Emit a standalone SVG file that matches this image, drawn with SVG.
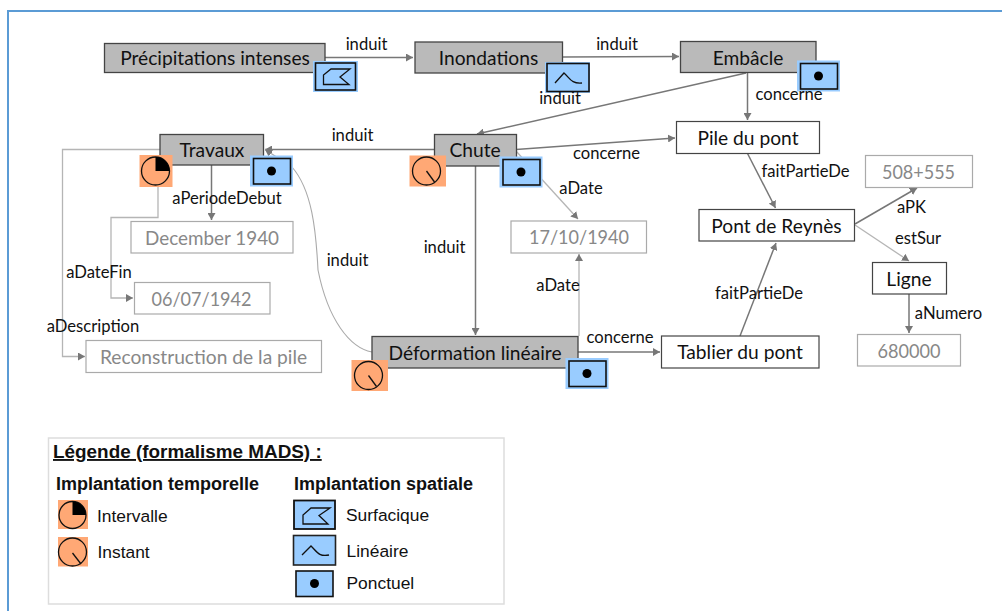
<svg xmlns="http://www.w3.org/2000/svg" width="1002" height="611" viewBox="0 0 1002 611">
<style>
text{font-family:Lato,"Liberation Sans",sans-serif;fill:#111;text-anchor:middle}
.t{font-size:19.2px}
.l{font-size:16.6px}
.a{font-size:19.2px;fill:#888}
.leg{font-family:"Liberation Sans",Arial,sans-serif;text-anchor:start;font-size:17.4px}
.b{font-weight:bold;font-size:18px}
.ev{fill:#bababa;stroke:#444;stroke-width:1.3}
.ob{fill:#fff;stroke:#444;stroke-width:1.2}
.at{fill:#fff;stroke:#aaa;stroke-width:1.2}
.c{fill:none;stroke:#777;stroke-width:1.5;marker-end:url(#ah)}
.cl{fill:none;stroke:#b5b5b5;stroke-width:1.3;marker-end:url(#ah)}
.i{fill:none;stroke:#111;stroke-width:1.3}
.bl{fill:#99ccff}
.or{fill:#ffa875}
</style>
<defs>
<marker id="ah" markerUnits="userSpaceOnUse" markerWidth="9" markerHeight="8" refX="7" refY="4" orient="auto"><path d="M0 0L7 4L0 8Z" fill="#777"/></marker>
<g id="instant"><rect x="-18" y="-15.500" width="36.500" height="31" class="or"/><circle cx="-1" cy="0" r="14" class="i"/><path d="M-1 0L7 11" class="i"/></g>
<g id="interval"><rect x="-16" y="-16" width="33" height="32" class="or"/><circle cx="0" cy="0" r="14" class="i"/><path d="M0 0V-14A14 14 0 0 1 14 0Z" fill="#000"/></g>
<g id="point"><rect x="-21.500" y="-15.500" width="43" height="31" class="bl"/><rect x="-18" y="-12.500" width="37" height="25.500" class="bl" stroke="#111" stroke-width="1.6"/><circle cx="0" cy="0" r="4.500" fill="#000"/></g>
</defs>
<rect x="8" y="11" width="1010" height="620" fill="none" stroke="#5b9bd5" stroke-width="2"/>
<g id="connectors">
<path class="c" d="M325 57.500H413"/>
<path class="c" d="M562 57L679 56.500"/>
<path class="c" d="M746 73L477 134"/>
<path class="c" d="M747.500 73V120"/>
<path class="c" d="M434 149.500H265"/>
<path class="c" d="M516 149.500L675 138"/>
<path class="c" d="M475.500 166V335"/>
<path class="c" d="M747.500 153.500L775.500 208"/>
<path class="cl" d="M516 151L578 219"/>
<path class="cl" d="M579 336V254"/>
<path class="c" d="M578 352H660"/>
<path class="c" d="M740 336L776 243"/>
<path class="c" d="M855 224L917 188"/>
<path class="cl" d="M855 225L909 261"/>
<path class="c" d="M909 294V333"/>
<path class="c" d="M211.500 165V220"/>
<path class="cl" d="M158 165V217.500H111V298H133"/>
<path class="cl" d="M160 149.500H62.500V356.500H85"/>
<path d="M372 352C350 348 328 320 318 270C316 230 312 190 292 167L265 149.500" fill="none" stroke="#aaa" stroke-width="1.1" marker-end="url(#ah)"/>
</g>
<g id="n-precip"><rect class="ev" x="104.500" y="43.500" width="220.500" height="29"/><text class="t" x="215" y="65">Précipitations intenses</text>
<rect x="313" y="61" width="45" height="31" class="bl"/><rect x="315.500" y="63" width="40" height="27" class="bl" stroke="#111" stroke-width="1.600"/><path class="i" d="M323.500 84.500V75L331 69H350L340 77L349 84.500Z"/></g>
<g id="n-inond"><rect class="ev" x="415" y="42" width="147.500" height="31"/><text class="t" x="488.500" y="65">Inondations</text>
<rect x="545" y="62" width="45" height="31" class="bl"/><rect x="547" y="63.500" width="42" height="28" class="bl" stroke="#111" stroke-width="1.600"/><path class="i" d="M555 83L564 73C570 78 571 84 582 83"/></g>
<g id="n-emb"><rect class="ev" x="680.500" y="41.500" width="135.500" height="31"/><text class="t" x="748" y="64.500">Embâcle</text><use href="#point" transform="translate(818.500 76)"/></g>
<g id="n-trav"><rect class="ev" x="160" y="134.500" width="103.500" height="30.500"/><text class="t" x="212" y="157">Travaux</text><use href="#interval" transform="translate(155.500 171)"/><use href="#point" transform="translate(271.500 171)"/></g>
<g id="n-chute"><rect class="ev" x="434.500" y="134.500" width="82" height="31.500"/><text class="t" x="475" y="157">Chute</text><use href="#instant" transform="translate(427.500 171)"/><use href="#point" transform="translate(521 172)"/></g>
<g id="n-pile"><rect class="ob" x="676.500" y="121.500" width="143" height="32"/><text class="t" x="748" y="145">Pile du pont</text></g>
<g id="n-pont"><rect class="ob" x="699" y="209.500" width="155.500" height="31.500"/><text class="t" x="776.500" y="232.500">Pont de Reynès</text></g>
<g id="n-pk"><rect class="at" x="865.500" y="155.500" width="107" height="32"/><text class="a" x="918.500" y="178.500" textLength="73" lengthAdjust="spacingAndGlyphs">508+555</text></g>
<g id="n-date"><rect class="at" x="511" y="221" width="135.500" height="32"/><text class="a" x="579" y="244" textLength="100" lengthAdjust="spacingAndGlyphs">17/10/1940</text></g>
<g id="n-dec"><rect class="at" x="131" y="221.500" width="162" height="31.500"/><text class="a" x="212" y="244.500" textLength="134" lengthAdjust="spacingAndGlyphs">December 1940</text></g>
<g id="n-fin"><rect class="at" x="134.500" y="282.500" width="135.500" height="31.500"/><text class="a" x="201.500" y="305.500" textLength="100" lengthAdjust="spacingAndGlyphs">06/07/1942</text></g>
<g id="n-rec"><rect class="at" x="86" y="340.500" width="235.500" height="32"/><text class="a" x="203.500" y="363.500">Reconstruction de la pile</text></g>
<g id="n-def"><rect class="ev" x="372" y="336.500" width="206" height="31.500"/><text class="t" x="475" y="359.500">Déformation linéaire</text><use href="#instant" transform="translate(369.500 375.500)"/><use href="#point" transform="translate(587 373.500)"/></g>
<g id="n-tab"><rect class="ob" x="661.500" y="336" width="157.500" height="32"/><text class="t" x="740" y="359">Tablier du pont</text></g>
<g id="n-ligne"><rect class="ob" x="872.500" y="262.500" width="74" height="31.500"/><text class="t" x="909" y="285.500">Ligne</text></g>
<g id="n-num"><rect class="at" x="857.500" y="334.500" width="103" height="31.500"/><text class="a" x="909" y="357.500" textLength="63" lengthAdjust="spacingAndGlyphs">680000</text></g>
<g id="labels">
<text class="l" x="366.500" y="49.500">induit</text>
<text class="l" x="617" y="49.500">induit</text>
<text class="l" x="560" y="104">induit</text>
<text class="l" x="789" y="100">concerne</text>
<text class="l" x="352.500" y="141">induit</text>
<text class="l" x="606.500" y="159">concerne</text>
<text class="l" x="227" y="204">aPeriodeDebut</text>
<text class="l" x="805.500" y="177">faitPartieDe</text>
<text class="l" x="581" y="194">aDate</text>
<text class="l" x="444.500" y="252.500">induit</text>
<text class="l" x="347.500" y="265.500">induit</text>
<text class="l" x="99" y="278">aDateFin</text>
<text class="l" x="93" y="331.500">aDescription</text>
<text class="l" x="558" y="291">aDate</text>
<text class="l" x="759" y="299">faitPartieDe</text>
<text class="l" x="620" y="343">concerne</text>
<text class="l" x="911.500" y="213">aPK</text>
<text class="l" x="918" y="244">estSur</text>
<text class="l" x="948.500" y="319">aNumero</text>
</g>
<g id="legend">
<rect x="48.500" y="438" width="455.500" height="166" fill="#fff" stroke="#ddd" stroke-width="1.500"/>
<text class="leg" x="53" y="458" style="font-size:18.9px;font-weight:bold;text-decoration:underline">Légende (formalisme MADS) :</text>
<text class="leg b" x="56" y="490">Implantation temporelle</text>
<text class="leg b" x="294" y="490">Implantation spatiale</text>
<g id="lg-int"><rect x="58" y="500" width="30" height="29" class="or"/><circle cx="72.500" cy="515" r="13.500" class="i"/><path d="M72.500 515V501.500A13.500 13.500 0 0 1 86 515Z" fill="#000"/><text class="leg" x="97" y="521.500">Intervalle</text></g>
<g id="lg-ins"><rect x="58" y="537" width="30" height="29.500" class="or"/><circle cx="72.500" cy="552" r="14" class="i"/><path d="M72.500 553L81 564" class="i"/><text class="leg" x="97.500" y="557.500">Instant</text></g>
<g id="lg-surf"><rect x="294" y="500.500" width="41" height="28.500" class="bl" stroke="#111" stroke-width="1.800"/><path class="i" d="M303 524V515L311 508H330L319 515.500L328 524Z"/><text class="leg" x="346" y="521">Surfacique</text></g>
<g id="lg-lin"><rect x="293.500" y="535.500" width="42" height="29.500" class="bl" stroke="#222" stroke-width="1.600"/><path class="i" d="M302 555L311 546C317 552 319 557 329 555"/><text class="leg" x="346.500" y="557">Linéaire</text></g>
<g id="lg-pon"><rect x="296" y="571" width="37" height="25.500" class="bl" stroke="#111" stroke-width="1.600"/><circle cx="314.500" cy="583.500" r="4.500" fill="#000"/><text class="leg" x="346.500" y="589">Ponctuel</text></g>
</g>
</svg>
